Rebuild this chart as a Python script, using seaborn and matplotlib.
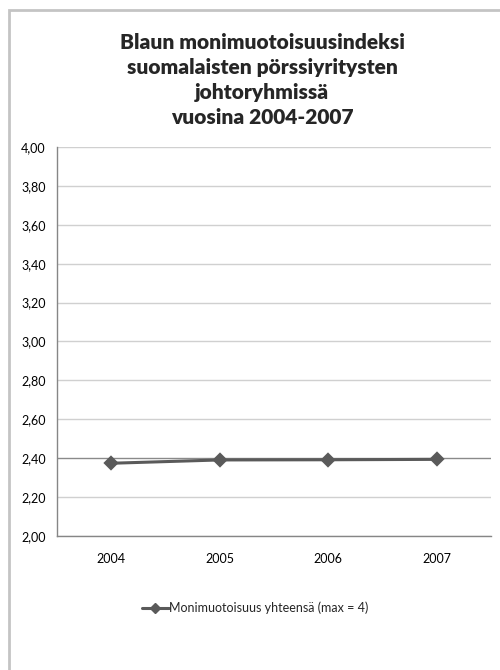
import matplotlib
matplotlib.use("Agg")
import matplotlib.pyplot as plt
from matplotlib.patches import Rectangle
from matplotlib.lines import Line2D
import seaborn as sns
import pandas as pd

years = ["2004", "2005", "2006", "2007"]
diversity = [2.374, 2.391, 2.392, 2.394]
series_label = "Monimuotoisuus yhteensä (max = 4)"
title = "Blaun monimuotoisuusindeksi\nsuomalaisten pörssiyritysten\njohtoryhmissä\nvuosina 2004-2007"
y_ticks = [2.0, 2.2, 2.4, 2.6, 2.8, 3.0, 3.2, 3.4, 3.6, 3.8, 4.0]

sns.set_theme(style="white")
plt.rcParams["font.family"] = ["Lato", "DejaVu Sans"]

df = pd.DataFrame({"Vuosi": years, "Indeksi": diversity})

fig = plt.figure(figsize=(5.0, 6.7), dpi=100)
ax = fig.add_axes([0.114, 0.2, 0.868, 0.5806])

# chart-area frame
fig.patches.append(Rectangle((8.5 / 500, -0.05), 1.2, 1 - 9.5 / 670 + 0.05,
                             transform=fig.transFigure, fill=False,
                             edgecolor="#c4c4c4", linewidth=2.0, zorder=0))

for t in y_ticks:
    shade = "#8a8a8a" if abs(t - 2.4) < 1e-9 else "#d0d0d0"
    ax.axhline(t, color=shade, linewidth=1.0, zorder=0)

sns.pointplot(data=df, x="Vuosi", y="Indeksi", ax=ax, color="#5a5a5a",
              markers="D", markersize=6, linewidth=2.2, errorbar=None)

ax.set_ylim(2.0, 4.0)
ax.set_xlim(-0.5, 3.5)
ax.set_yticks(y_ticks)
ax.set_yticklabels([f"{t:.2f}".replace(".", ",") for t in y_ticks])
ax.set_xlabel("")
ax.set_ylabel("")
ax.tick_params(axis="both", length=0, labelsize=9, colors="#000000")
ax.tick_params(axis="x", pad=12)
ax.tick_params(axis="y", pad=8)

for side in ["top", "right"]:
    ax.spines[side].set_visible(False)
for side in ["left", "bottom"]:
    ax.spines[side].set_color("#868686")
    ax.spines[side].set_linewidth(1.0)

fig.text(262 / 500, 1 - 80 / 670, title, ha="center", va="center",
         fontsize=15, fontweight="heavy", linespacing=1.38)

handle = Line2D([], [], color="#5a5a5a", linewidth=2.2, marker="D", markersize=5)
fig.legend([handle], [series_label], loc="center", bbox_to_anchor=(255 / 500, 1 - 608 / 670),
           frameon=False, fontsize=9, handlelength=2.2, handletextpad=0.0)

fig.savefig("out.png", dpi=100)
